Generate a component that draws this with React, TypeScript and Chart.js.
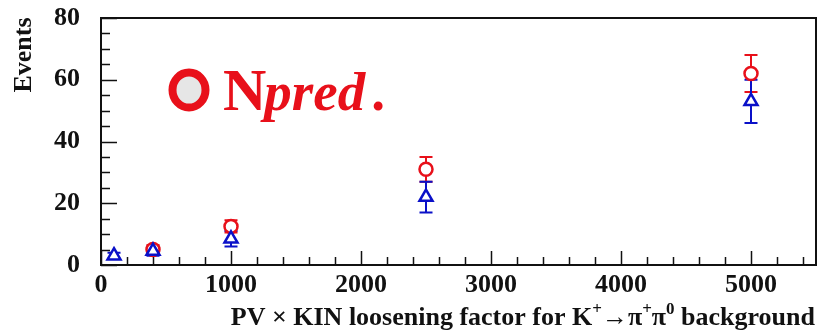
import React, { useEffect, useRef } from "react";
import { Chart, registerables } from "chart.js";

Chart.register(...registerables);

const blueX = [100, 400, 1000, 2500, 5000];
const blueY = [3, 4.5, 8.5, 22, 53];
const blueErr = [1, 1.5, 2.5, 5, 7];
const redX = [400, 1000, 2500, 5000];
const redY = [5, 12.5, 31, 62];
const redErr = [1.5, 2, 4, 6];
const xTicks = [0, 1000, 2000, 3000, 4000, 5000];
const yTicks = [0, 20, 40, 60, 80];

const RED = "#e8101a";
const BLUE = "#0a10c8";
const SERIF = "'Liberation Serif', 'Times New Roman', serif";

const fixAreaPlugin = {
  id: "fixarea",
  afterLayout(chart: any) {
    const R = 816;
    const xs = chart.scales.x;
    xs.right = R;
    xs.width = R - xs.left;
    xs.configure();
    chart.chartArea.right = R;
    chart.chartArea.width = R - chart.chartArea.left;
  },
};

const errPlugin = {
  id: "errbars",
  beforeDatasetsDraw(chart: any) {
    const ctx = chart.ctx;
    const xs = chart.scales.x;
    const ys = chart.scales.y;
    const sets = [
      { x: redX, y: redY, e: redErr, c: RED },
      { x: blueX, y: blueY, e: blueErr, c: BLUE },
    ];
    ctx.save();
    ctx.lineWidth = 2;
    for (const s of sets) {
      ctx.strokeStyle = s.c;
      s.x.forEach((xv: number, i: number) => {
        const px = xs.getPixelForValue(xv);
        const top = ys.getPixelForValue(s.y[i] + s.e[i]);
        const bot = ys.getPixelForValue(Math.max(0, s.y[i] - s.e[i]));
        ctx.beginPath();
        ctx.moveTo(px, top);
        ctx.lineTo(px, bot);
        ctx.moveTo(px - 6.5, top);
        ctx.lineTo(px + 6.5, top);
        ctx.moveTo(px - 6.5, bot);
        ctx.lineTo(px + 6.5, bot);
        ctx.stroke();
      });
    }
    ctx.restore();
  },
};

const framePlugin = {
  id: "frame",
  afterDraw(chart: any) {
    const ctx = chart.ctx;
    const a = chart.chartArea;
    const xs = chart.scales.x;
    const ys = chart.scales.y;
    ctx.save();
    ctx.strokeStyle = "#111";
    ctx.lineWidth = 2;
    ctx.strokeRect(a.left, a.top, a.right - a.left, a.bottom - a.top);
    ctx.lineWidth = 1.5;
    ctx.beginPath();
    for (let v = 0; v <= 80; v += 5) {
      const py = Math.round(ys.getPixelForValue(v)) + 0.5;
      const len = v % 20 === 0 ? 16 : 9;
      ctx.moveTo(a.left, py);
      ctx.lineTo(a.left + len, py);
    }
    for (let v = 0; v <= 5400; v += 200) {
      const px = Math.round(xs.getPixelForValue(v)) + 0.5;
      const len = v % 1000 === 0 ? 14 : 8;
      ctx.moveTo(px, a.bottom);
      ctx.lineTo(px, a.bottom - len);
    }
    ctx.stroke();

    // y title
    ctx.fillStyle = "#111";
    ctx.font = `bold 26px ${SERIF}`;
    ctx.save();
    ctx.translate(31, 55);
    ctx.rotate(-Math.PI / 2);
    ctx.textAlign = "center";
    ctx.textBaseline = "alphabetic";
    ctx.fillText("Events", 0, 0);
    ctx.restore();

    // x title with superscripts
    const parts: [string, boolean][] = [
      ["PV \u00d7 KIN loosening factor for K", false],
      ["+", true],
      ["\u2192\u03c0", false],
      ["+", true],
      ["\u03c0", false],
      ["0", true],
      [" background", false],
    ];
    const big = `bold 26px ${SERIF}`;
    const small = `bold 17px ${SERIF}`;
    let total = 0;
    for (const [t, sup] of parts) {
      ctx.font = sup ? small : big;
      total += ctx.measureText(t).width;
    }
    let x = 815 - total;
    const base = 325;
    ctx.textAlign = "left";
    for (const [t, sup] of parts) {
      ctx.font = sup ? small : big;
      ctx.fillText(t, x, sup ? base - 11 : base);
      x += ctx.measureText(t).width;
    }

    // legend
    ctx.beginPath();
    ctx.ellipse(189, 90, 16.5, 17.5, 0, 0, Math.PI * 2);
    ctx.fillStyle = "#e6e6e6";
    ctx.fill();
    ctx.lineWidth = 8;
    ctx.strokeStyle = RED;
    ctx.stroke();
    ctx.fillStyle = RED;
    ctx.font = `bold 60px ${SERIF}`;
    ctx.fillText("N", 223, 110);
    const nw = ctx.measureText("N").width;
    ctx.font = `italic bold 55px ${SERIF}`;
    ctx.fillText("pred", 223 + nw - 2, 110);
    const pw = ctx.measureText("pred").width;
    ctx.font = `bold 55px ${SERIF}`;
    ctx.fillText(".", 223 + nw + pw + 4, 110);
    ctx.restore();
  },
};

export default function App() {
  const ref = useRef<HTMLCanvasElement>(null);
  useEffect(() => {
    document.body.style.margin = "0";
    const chart = new Chart(ref.current!, {
      type: "scatter",
      data: {
        datasets: [
          {
            label: "blue",
            data: blueX.map((x, i) => ({ x, y: blueY[i] })),
            pointStyle: "triangle",
            pointRadius: 7.5,
            borderColor: BLUE,
            backgroundColor: "#ffffff",
            borderWidth: 2.5,
          },
          {
            label: "red",
            data: redX.map((x, i) => ({ x, y: redY[i] })),
            pointStyle: "circle",
            pointRadius: 6.5,
            borderColor: RED,
            backgroundColor: "#ffffff",
            borderWidth: 2.5,
          },
        ],
      },
      options: {
        animation: false,
        responsive: false,
        clip: false,
        layout: { padding: { top: 18, right: 3, left: 0, bottom: 0 } },
        plugins: { legend: { display: false }, tooltip: { enabled: false } },
        scales: {
          x: {
            type: "linear",
            min: 0,
            max: 5500,
            afterFit: (s: any) => {
              s.height = 66;
              s.paddingLeft = 0;
              s.paddingRight = 0;
              s.paddingTop = 0;
              s.paddingBottom = 0;
            },
            afterBuildTicks: (s: any) => {
              s.ticks = xTicks.map((v) => ({ value: v }));
            },
            grid: { display: false, drawTicks: false },
            border: { display: false },
            ticks: {
              padding: 5,
              color: "#111",
              font: { family: SERIF, size: 26, weight: "bold" },
              maxRotation: 0,
              callback: (v: any) => String(v),
            },
          },
          y: {
            min: 0,
            max: 80,
            afterFit: (s: any) => {
              s.width = 101;
              s.paddingLeft = 0;
              s.paddingRight = 0;
              s.paddingTop = 0;
              s.paddingBottom = 0;
            },
            afterBuildTicks: (s: any) => {
              s.ticks = yTicks.map((v) => ({ value: v }));
            },
            grid: { display: false, drawTicks: false },
            border: { display: false },
            ticks: {
              padding: 21,
              color: "#111",
              font: { family: SERIF, size: 26, weight: "bold" },
              callback: (v: any) => String(v),
            },
          },
        },
      },
      plugins: [fixAreaPlugin, errPlugin, framePlugin],
    } as any);
    return () => chart.destroy();
  }, []);
  return <canvas ref={ref} width={819} height={331} style={{ display: "block" }} />;
}
